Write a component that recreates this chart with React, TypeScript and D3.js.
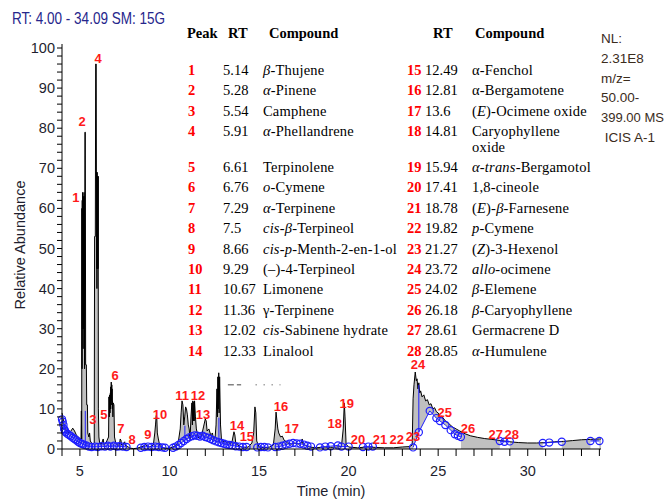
import React from 'react';
import * as d3 from 'd3';

const W = 667;
const H = 499;

const xDomain: [number, number] = [4, 34.09];
const yDomain: [number, number] = [0, 100];
const xTickLabels = [5, 10, 15, 20, 25, 30];
const yTickLabels = [0, 10, 20, 30, 40, 50, 60, 70, 80, 90, 100];

const titleText = 'RT: 4.00 - 34.09  SM: 15G';
const infoLines = ['NL:', '2.31E8', 'm/z=', '50.00-', '399.00 MS', ' ICIS A-1'];

const peakIds = [1, 2, 3, 4, 5, 6, 7, 8, 9, 10, 11, 12, 13, 14, 15, 16, 17, 18, 19, 20, 21, 22, 23, 24, 25, 26, 27, 28];
const peakRT = ['5.14', '5.28', '5.54', '5.91', '6.61', '6.76', '7.29', '7.5', '8.66', '9.29', '10.67', '11.36', '12.02', '12.33',
  '12.49', '12.81', '13.6', '14.81', '15.94', '17.41', '18.78', '19.82', '21.27', '23.72', '24.02', '26.18', '28.61', '28.85'];
const compounds = ['_β_-Thujene', '_α_-Pinene', 'Camphene', '_α_-Phellandrene', 'Terpinolene', '_o_-Cymene', '_α_-Terpinene',
  '_cis_-_β_-Terpineol', '_cis_-_p_-Menth-2-en-1-ol', '(–)-4-Terpineol', 'Limonene', 'γ-Terpinene', '_cis_-Sabinene hydrate', 'Linalool',
  'α-Fenchol', 'α-Bergamotene', '(_E_)-Ocimene oxide', 'Caryophyllene|oxide', '_α_-_trans_-Bergamotol', '1,8-cineole',
  '(_E_)-_β_-Farnesene', '_p_-Cymene', '(_Z_)-3-Hexenol', '_allo_-ocimene', '_β_-Elemene', '_β_-Caryophyllene', 'Germacrene D', '_α_-Humulene'];

// chart peak-label anchor (time, abundance)
const labelT = [4.78, 5.12, 5.73, 6.01, 6.34, 6.96, 7.29, 7.91, 8.8, 9.47, 10.7, 11.59, 11.87, 13.77, 14.32, 16.22, 16.83, 19.23, 19.9, 20.52, 21.75, 22.69, 23.59, 23.87, 25.37, 26.66, 28.22, 29.11];
const labelY = [62.8, 81.8, 7.5, 97.5, 8.7, 18.5, 5.2, 2.5, 3.7, 8.7, 13.5, 13.5, 8.7, 6.0, 3.2, 10.7, 5.2, 6.5, 11.5, 2.5, 2.5, 2.5, 3.2, 21.2, 9.2, 5.2, 3.7, 3.7];

// TIC trace (time min, relative abundance)
const trace: [number, number][] = [
  [4.0, 9], [4.05, 8], [4.1, 6.5], [4.2, 5], [4.3, 4.3], [4.4, 4], [4.5, 4.5], [4.6, 5.2], [4.7, 4.5], [4.8, 3.5], [4.9, 3],
  [5.0, 2.6], [5.06, 2.5], [5.08, 9.5], [5.1, 2.5], [5.11, 60], [5.12, 20], [5.13, 62], [5.14, 30], [5.15, 64], [5.16, 35],
  [5.17, 60], [5.18, 25], [5.19, 63], [5.2, 30], [5.21, 62], [5.22, 40], [5.23, 64], [5.24, 40], [5.25, 63], [5.26, 20],
  [5.28, 79], [5.3, 79], [5.32, 21], [5.36, 21], [5.38, 11], [5.42, 11], [5.44, 4], [5.5, 3], [5.54, 4],
  [5.58, 2], [5.65, 1.5], [5.72, 1.2], [5.8, 1.5], [5.82, 53], [5.86, 53], [5.88, 96], [5.91, 96], [5.93, 45], [5.94, 69],
  [5.95, 40], [5.96, 69], [5.97, 45], [5.98, 68], [5.99, 45], [6.0, 68], [6.01, 45], [6.02, 68], [6.03, 10], [6.06, 3],
  [6.1, 1.5], [6.2, 1.2], [6.3, 2.5], [6.35, 1], [6.45, 1.5],
  [6.55, 2.5], [6.6, 3], [6.62, 13], [6.64, 8], [6.66, 13.5], [6.68, 9], [6.7, 14], [6.71, 10], [6.72, 15.5], [6.73, 11],
  [6.75, 16.7], [6.76, 12], [6.78, 16], [6.79, 11], [6.8, 15], [6.81, 10], [6.82, 12], [6.84, 8],
  [6.86, 11.5], [6.9, 11], [6.93, 3], [7.0, 1.5], [7.1, 1], [7.2, 1], [7.25, 2.5], [7.29, 2.2], [7.33, 1], [7.4, 1.2], [7.5, 1.8],
  [7.55, 0.8], [7.7, 0.5], [7.8, 0.2], [8.0, 0.1], [8.2, 0.2], [8.4, 0.5], [8.6, 0.8], [8.66, 1.2], [8.75, 0.6], [8.9, 0.5],
  [9.0, 0.7], [9.1, 1], [9.18, 4], [9.22, 6], [9.26, 8.3], [9.29, 8], [9.32, 4], [9.38, 2.5], [9.45, 1], [9.55, 0.5], [9.7, 0.2],
  [10.0, 0.2], [10.2, 0.5], [10.4, 1], [10.5, 2], [10.6, 5], [10.65, 9], [10.7, 12], [10.75, 11], [10.8, 6], [10.85, 8],
  [10.9, 10.5], [10.95, 10], [11.0, 8.5], [11.05, 6], [11.1, 5], [11.15, 2.5], [11.2, 8], [11.25, 11.5], [11.28, 6], [11.3, 12],
  [11.33, 7], [11.36, 11.8], [11.38, 7], [11.4, 12], [11.45, 8], [11.5, 5], [11.6, 3], [11.7, 2.5], [11.8, 3.5], [11.9, 5.5],
  [12.0, 7.5], [12.05, 7], [12.1, 4.5],
  [12.2, 5], [12.3, 3.5], [12.4, 4], [12.45, 2.5], [12.55, 3], [12.6, 6], [12.65, 15], [12.68, 8], [12.7, 18], [12.72, 10],
  [12.75, 19], [12.77, 9], [12.8, 18],
  [12.85, 6], [12.9, 2.5], [13.0, 1.8], [13.1, 2], [13.2, 1.5], [13.3, 1.8], [13.4, 1.2], [13.5, 2], [13.6, 4.3], [13.65, 3.5],
  [13.7, 1.5], [13.8, 1], [14.0, 0.5], [14.2, 0.3], [14.4, 0.5], [14.6, 1.5], [14.7, 4], [14.77, 10.5], [14.82, 9], [14.87, 2],
  [15.0, 0.5], [15.3, 0.3], [15.6, 0.5], [15.8, 1], [15.9, 5], [15.95, 9.2], [16.0, 7], [16.05, 5], [16.1, 4], [16.2, 3],
  [16.3, 3.2], [16.4, 2.2], [16.6, 1.5], [16.8, 1.2], [17.0, 1.5], [17.2, 1.2], [17.35, 1.5], [17.41, 2.5], [17.45, 1.3],
  [17.6, 0.8], [17.8, 0.5], [18.2, 0.3], [18.6, 0.5], [19.0, 0.4], [19.4, 0.5], [19.6, 0.6], [19.7, 5], [19.76, 11.5], [19.8, 8],
  [19.86, 1.2], [20.0, 0.5], [20.5, 0.3], [21.0, 0.5], [21.5, 0.4], [22.0, 0.3], [22.5, 0.3], [23.0, 0.5], [23.4, 0.6], [23.55, 1],
  [23.6, 12.5], [23.65, 16], [23.72, 19.2], [23.78, 17], [23.82, 17.5], [23.87, 15], [23.92, 16.5], [23.97, 14], [24.02, 14.5],
  [24.1, 13], [24.2, 13.5], [24.3, 12], [24.4, 12.3], [24.5, 11], [24.6, 11.3], [24.7, 10], [24.8, 10.3], [24.9, 9.3], [25.0, 9],
  [25.1, 8], [25.2, 8.2], [25.4, 7], [25.6, 6.3], [25.8, 5.5], [26.0, 5], [26.2, 4.5], [26.5, 3.8], [26.8, 3.3], [27.2, 2.9],
  [27.6, 2.6], [28.0, 2.4], [28.5, 2.1], [29.0, 1.8], [29.5, 1.6], [30.0, 1.5], [30.5, 1.5], [31.0, 1.6], [31.5, 1.8], [32.0, 1.9],
  [32.5, 2.1], [33.0, 2.3], [33.5, 2.4], [34.0, 2.5], [34.09, 2.5],
];

// second (smoothed) trace drawn in blue with circle markers, in segments
const baselineSegments: [number, number][][] = [
  [[4.0, 7.4], [4.04, 6.8], [4.08, 6.0], [4.12, 5.0], [4.16, 4.6], [4.2, 4.2], [4.3, 3.8], [4.4, 3.5], [4.5, 3.2], [4.6, 2.8],
    [4.7, 2.5], [4.8, 2.2], [4.9, 1.8], [5.0, 1.5], [5.1, 1.3], [5.2, 1.1], [5.35, 0.9], [5.5, 0.6], [5.65, 0.5], [5.85, 0.6],
    [6.0, 0.5], [6.2, 0.7], [6.4, 0.6], [6.55, 0.8], [6.7, 0.6], [6.9, 0.8], [7.05, 0.6], [7.2, 0.7], [7.4, 0.6], [7.6, 0.5]],
  [[8.4, 0.3], [8.6, 0.5], [8.8, 0.6], [9.0, 0.5], [9.2, 0.6], [9.4, 0.5], [9.6, 0.4], [9.75, 0.3]],
  [[10.2, 0.3], [10.35, 0.6], [10.5, 1], [10.65, 1.5], [10.8, 2], [10.95, 2.5], [11.1, 2.9], [11.25, 3.2], [11.4, 3.4],
    [11.55, 3.3], [11.7, 3.1], [11.85, 3.3], [12.0, 3.0], [12.15, 2.8], [12.3, 2.5], [12.45, 2.2], [12.6, 1.9], [12.75, 1.7],
    [12.9, 1.5], [13.05, 1.3], [13.2, 1.1], [13.35, 1.0], [13.5, 0.9], [13.7, 0.7], [13.9, 0.6], [14.1, 0.5], [14.3, 0.5]],
  [[14.9, 0.4], [15.1, 0.5], [15.3, 0.5], [15.5, 0.4]],
  [[15.9, 0.5], [16.1, 0.6], [16.3, 0.8], [16.5, 1.1], [16.7, 1.3], [16.9, 1.5], [17.1, 1.4], [17.3, 1.3], [17.5, 1.1],
    [17.7, 0.8], [17.9, 0.6]],
  [[18.4, 0.4], [18.7, 0.6], [19.0, 0.7], [19.4, 0.9], [19.6, 0.6], [20.0, 0.6]],
  [[20.8, 0.5], [21.1, 0.6], [21.35, 0.6]],
  [[23.6, 0.4], [23.92, 4.2], [24.53, 9.5], [24.9, 7.7], [25.1, 7.0], [25.4, 6.0], [25.7, 4.7], [25.93, 3.7], [26.1, 3.3], [26.27, 3.0]],
  [[28.44, 2.0], [28.7, 1.8], [29.0, 1.9]],
  [[30.84, 1.5], [31.2, 1.6], [31.9, 1.8]],
  [[33.5, 2.0], [34.0, 2.0]],
];
// vertical blue spikes (time, top abundance, bottom abundance)
const baselineSpikes: [number, number, number][] = [
  [5.3, 9.5, 1.0], [10.86, 5.8, 1.8], [12.76, 7.8, 1.7], [23.92, 16, 4.2],
];
// stray dashed artefact (time start, time end, abundance)
const dashArtefact: [number, number, number] = [13.26, 14.0, 16];
const dotArtefact: [number, number, number] = [14.8, 16.2, 16];

function renderRich(s: string) {
  const parts = s.split('_');
  return parts.map((p, i) => (
    <tspan key={i} fontStyle={i % 2 === 1 ? 'italic' : 'normal'}>{p}</tspan>
  ));
}

export default function App() {
  const x = d3.scaleLinear().domain(xDomain).range([62, 601]);
  const y = d3.scaleLinear().domain(yDomain).range([449, 48]);
  const line = d3.line<[number, number]>().x(d => x(d[0])).y(d => y(d[1]));
  const area = d3.area<[number, number]>().x(d => x(d[0])).y0(y(0)).y1(d => y(d[1]));

  const yMinor = d3.range(0, 101, 2);
  const xMinor = d3.range(4, 35, 1);

  const rowY = (k: number) => (k < 4 ? 70 + k * 20.4 : 167 + (k - 4) * 20.4);

  const sans = 'Liberation Sans, Arial, sans-serif';
  const serif = 'Liberation Serif, Times New Roman, serif';

  return (
    <svg width={W} height={H} style={{ position: 'absolute', left: 0, top: 0, background: '#fff' }}>
      <rect x={0} y={0} width={W} height={H} fill="#fff" />
      <text x={12} y={24} fontFamily={sans} fontSize={16.5} fill="#26268c" textLength={153} lengthAdjust="spacingAndGlyphs">{titleText}</text>

      {/* trace fill */}
      <path d={area(trace) || ''} fill="#c0c0c0" />
      {baselineSegments.map((seg, i) => (
        <path key={'wf' + i} d={area(seg) || ''} fill="#fff" />
      ))}
      <path d={line(trace) || ''} fill="none" stroke="#000" strokeWidth={1} />

      {/* blue smoothed trace */}
      {baselineSegments.map((seg, i) => (
        <path key={'bl' + i} d={line(seg) || ''} fill="none" stroke="#1f1fff" strokeWidth={1} />
      ))}
      {baselineSpikes.map((s, i) => (
        <line key={'sp' + i} x1={x(s[0])} x2={x(s[0])} y1={y(s[2])} y2={y(s[1])} stroke="#1f1fff" strokeWidth={1} />
      ))}
      {baselineSegments.flat().map((p, i) => (
        <circle key={'c' + i} cx={x(p[0])} cy={y(p[1])} r={3.6} fill="none" stroke="#1f1fff" strokeWidth={1.2} />
      ))}

      {/* artefact */}
      <line x1={x(dashArtefact[0])} x2={x(dashArtefact[1])} y1={y(dashArtefact[2])} y2={y(dashArtefact[2])} stroke="#444" strokeWidth={1} strokeDasharray="6,3" />
      <line x1={x(dotArtefact[0])} x2={x(dotArtefact[1])} y1={y(dotArtefact[2])} y2={y(dotArtefact[2])} stroke="#777" strokeWidth={1} strokeDasharray="1.5,6.5" />

      {/* axes */}
      <line x1={62} x2={62} y1={y(100) - 4} y2={y(0)} stroke="#000" />
      <line x1={62} x2={x(xDomain[1])} y1={y(0)} y2={y(0)} stroke="#000" />
      {yMinor.map(v => (
        <line key={'yt' + v} x1={57} x2={62} y1={y(v)} y2={y(v)} stroke="#000" />
      ))}
      {yTickLabels.map(v => (
        <text key={'yl' + v} x={55} y={y(v) + 5} textAnchor="end" fontFamily={sans} fontSize={14.5} fill="#1e1e2e">{v}</text>
      ))}
      {xMinor.map(v => (
        <line key={'xt' + v} x1={x(v)} x2={x(v)} y1={y(0)} y2={y(0) + 7} stroke="#000" />
      ))}
      {xTickLabels.map(v => (
        <text key={'xl' + v} x={x(v)} y={476} textAnchor="middle" fontFamily={sans} fontSize={14.5} fill="#1e1e2e">{v}</text>
      ))}
      <text x={331} y={496} textAnchor="middle" fontFamily={sans} fontSize={14.5} fill="#1e1e2e">Time (min)</text>
      <text transform="translate(25,245) rotate(-90)" textAnchor="middle" fontFamily={sans} fontSize={14.5} fill="#1e1e2e">Relative Abundance</text>

      {/* peak labels */}
      {peakIds.map((id, i) => (
        <text key={'pl' + id} x={x(labelT[i])} y={y(labelY[i]) + 5} textAnchor="middle" fontFamily={sans} fontSize={13} fontWeight="bold" fill="#ff1a1a">{id}</text>
      ))}

      {/* info */}
      {infoLines.map((t, i) => (
        <text key={'in' + i} x={601} y={43 + i * 19.8} fontFamily={sans} fontSize={13.5} fill="#3b2c1c"
          textLength={t === '399.00 MS' ? 63 : undefined} lengthAdjust="spacingAndGlyphs" style={{ whiteSpace: 'pre' }}>{t}</text>
      ))}

      {/* table headers */}
      <g fontFamily={serif} fontWeight="bold" fontSize={14.5} fill="#000">
        <text x={187} y={38}>Peak</text>
        <text x={228} y={38}>RT</text>
        <text x={269} y={38}>Compound</text>
        <text x={433} y={38}>RT</text>
        <text x={475} y={38}>Compound</text>
      </g>
      {peakIds.map((id, i) => {
        const right = i >= 14;
        const k = i % 14;
        const yy = rowY(k) + 5;
        const lines = compounds[i].split('|');
        return (
          <g key={'row' + id} fontFamily={serif} fontSize={14.5}>
            <text x={right ? 407 : 188} y={yy} fontWeight="bold" fill="#ff0000">{id}</text>
            <text x={right ? 425 : 223} y={yy} fill="#000">{peakRT[i]}</text>
            {lines.map((ln, j) => (
              <text key={j} x={right ? 472 : 263} y={yy + j * 16} fill="#000" letterSpacing={0.2}>{renderRich(ln)}</text>
            ))}
          </g>
        );
      })}
    </svg>
  );
}
